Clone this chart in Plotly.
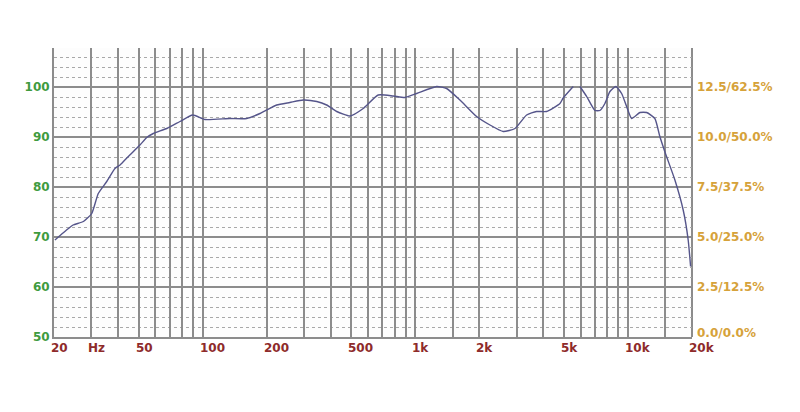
import math
import plotly.graph_objects as go

# Frequency response (Hz, dB SPL)
freq = [20.2, 22.9, 24.6, 27.5, 30.1, 32.3, 35.4, 38.7, 40.9, 44.7, 50.7, 54.6, 58.6,
        67.8, 78.2, 89.8, 102.6, 134, 161, 186, 223, 257, 297, 344, 383, 427, 493,
        569, 669, 787, 893, 1015, 1260, 1403, 1621, 1942, 2244, 2590, 2942, 3338,
        3716, 4144, 4786, 4958, 5528, 5736, 5944, 6392, 6992, 7380, 7790, 8224, 8774,
        9334, 9852, 10400, 11380, 12240, 13380, 14120, 14920, 16620, 18180, 19190, 19700]
spl = [69.4, 71.4, 72.4, 73.1, 74.7, 78.7, 81.1, 83.7, 84.4, 86.1, 88.4, 89.9, 90.7,
       91.7, 93.1, 94.4, 93.5, 93.7, 93.7, 94.7, 96.4, 96.9, 97.4, 97.1, 96.4, 95.1, 94.2,
       95.7, 98.4, 98.2, 97.9, 98.7, 100.1, 99.7, 97.4, 94.1, 92.4, 91.1, 91.7, 94.4,
       95.1, 95.1, 96.7, 97.8, 100.1, None, 100.1, 98.1, 95.3, 95.3, 96.7, 99.1, 100.1,
       98.7, 96.1, 93.7, 94.9, 94.9, 93.7, 90.1, 87.0, 81.4, 75.4, 69.4, 64.1]

# Grid / tick definitions
grid_freqs = [20, 30, 40, 50, 60, 70, 80, 90, 100, 200, 300, 400, 500, 600, 700, 800, 900,
              1000, 1500, 2000, 3000, 4000, 5000, 6000, 7000, 8000, 9000, 10000, 15000, 20000]
xlabel_freqs = [20, 30, 50, 100, 200, 500, 1000, 2000, 5000, 10000, 20000]
xlabel_text = ["20", "Hz", "50", "100", "200", "500", "1k", "2k", "5k", "10k", "20k"]
db_ticks = [50, 60, 70, 80, 90, 100]
right_text = ["0.0/0.0%", "2.5/12.5%", "5.0/25.0%", "7.5/37.5%", "10.0/50.0%", "12.5/62.5%"]
y_range = [50, 107.8]
f_range = [20, 20000]

GRID = "#8c8c8c"
fig = go.Figure()
fig.add_trace(go.Scatter(x=freq, y=spl, mode="lines", connectgaps=False,
                         line=dict(color="#55558a", width=1.4, shape="spline", smoothing=0.5),
                         hoverinfo="skip", showlegend=False))

for f, t in zip(xlabel_freqs, xlabel_text):
    fig.add_annotation(x=math.log10(f), xref="x", y=0, yref="paper", text=t, showarrow=False,
                       xanchor="left", yanchor="top", xshift=-4, yshift=-3, borderpad=0,
                       font=dict(family="DejaVu Sans", size=12, color="#8e2b2b", weight="bold"))

for v, t in zip(db_ticks, right_text):
    fig.add_annotation(x=1, xref="paper", y=v, yref="y", text=t, showarrow=False,
                       xanchor="left", yanchor="middle", xshift=4,
                       yshift=4 if v == db_ticks[0] else 0, borderpad=0,
                       font=dict(family="DejaVu Sans", size=12, color="#d6a23a", weight="bold"))

fig.update_layout(
    width=800, height=412,
    margin=dict(l=46, r=116, t=40, b=83),
    paper_bgcolor="white", plot_bgcolor="#fdfdfd",
    xaxis=dict(type="log", range=[math.log10(f_range[0]), math.log10(f_range[1])],
               tickmode="array", tickvals=grid_freqs, automargin=False,
               showticklabels=False, ticks="", showgrid=True, gridcolor=GRID, gridwidth=2,
               showline=True, linecolor=GRID, linewidth=2, mirror=False, zeroline=False),
    yaxis=dict(range=y_range, tickmode="array", tickvals=db_ticks, ticks="", automargin=False,
               showgrid=True, gridcolor=GRID, gridwidth=2, zeroline=False,
               showline=True, linecolor=GRID, linewidth=2, ticklabelstandoff=0,
               tickfont=dict(family="DejaVu Sans", size=12, color="#3f9b3f", weight="bold"),
               minor=dict(dtick=2, showgrid=True, gridcolor="#a8a8a8", gridwidth=1, griddash="dot")),
)
fig.add_shape(type="line", xref="paper", yref="paper", x0=1, x1=1, y0=0, y1=1,
              line=dict(color=GRID, width=2), layer="below")

fig.write_html("out.html")
